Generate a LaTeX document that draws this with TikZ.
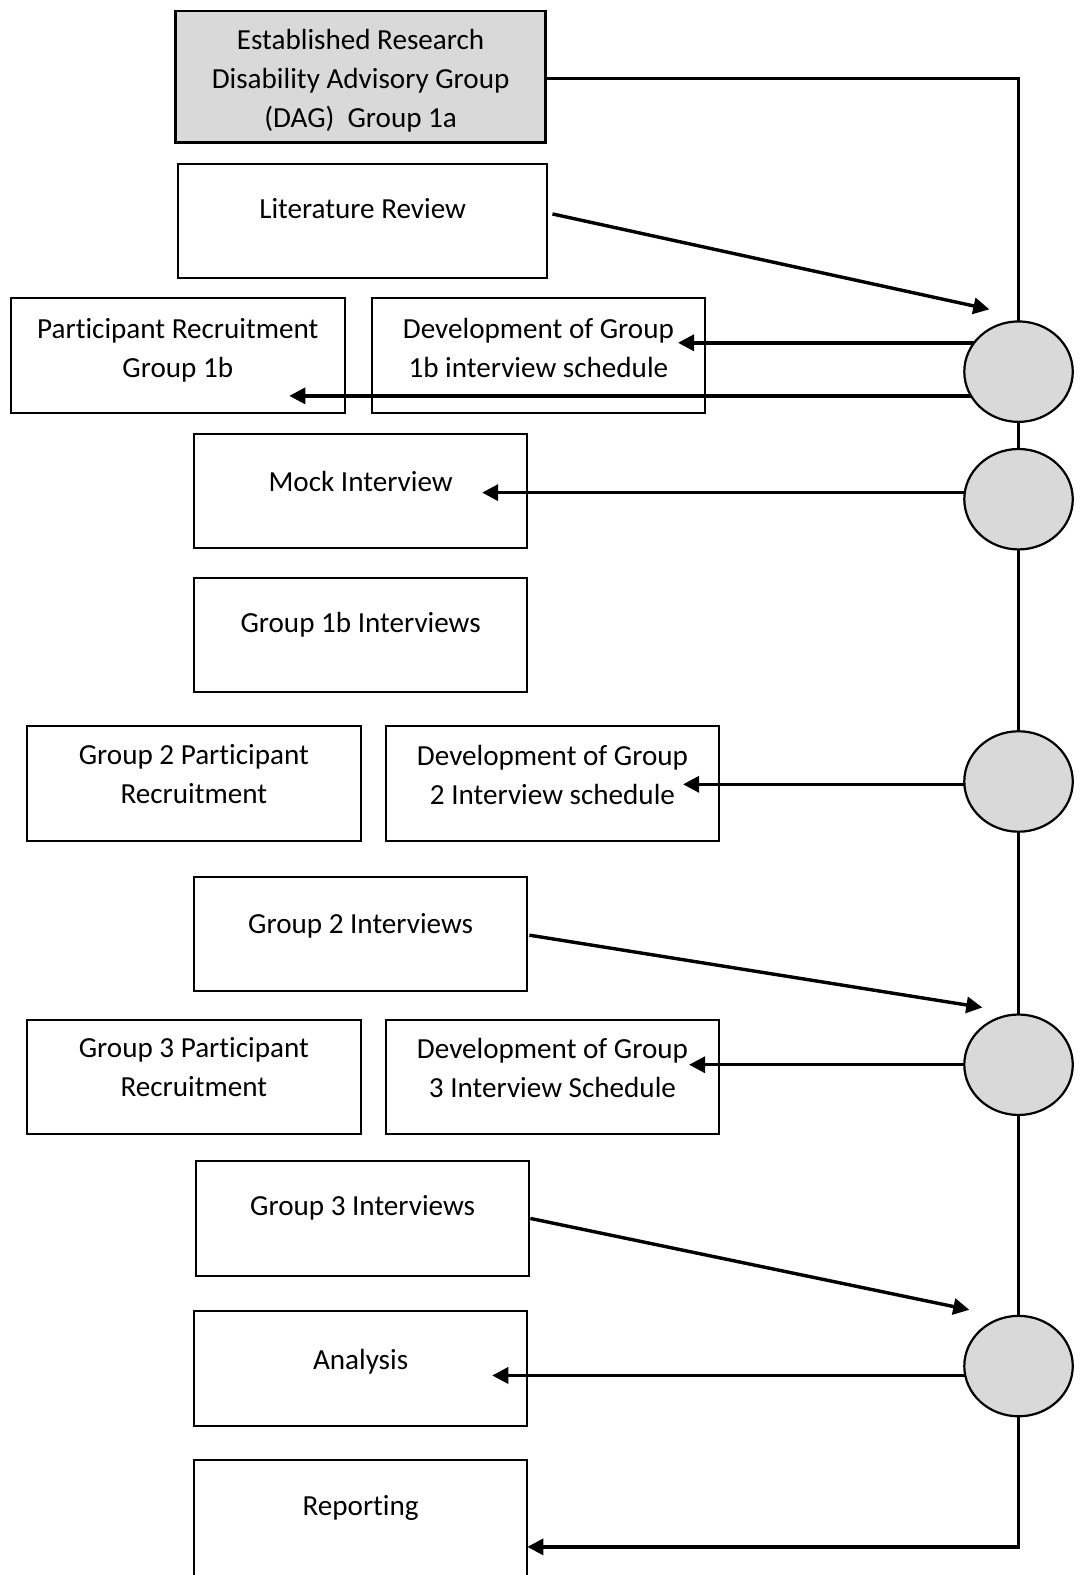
\documentclass[tikz,border=0pt]{standalone}
\usepackage{fontspec}
\setmainfont{Carlito}[Ligatures=NoCommon]
\usetikzlibrary{arrows.meta,shapes.geometric,backgrounds}
\definecolor{hubgray}{HTML}{D9D9D9}
\begin{document}
\begin{tikzpicture}[x=0.5pt,y=-0.5pt,
  sz/.style 2 args={minimum width=#1*0.5pt, minimum height=#2*0.5pt},
  box/.style={draw=black, line width=1pt, fill=white, inner sep=0pt, outer sep=0pt},
  dagbox/.style={box, fill=hubgray, line width=1.4pt},
  lbl/.style={anchor=base, align=center, font=\fontsize{14.5}{19.5}\selectfont, inner sep=0pt, outer sep=0pt},
  hub/.style={ellipse, draw=black, fill=hubgray, line width=1.1pt, minimum width=54pt, minimum height=50pt, inner sep=0pt, outer sep=0pt},
  conn/.style={line width=1.7pt},
  arr/.style={conn, -{Triangle[length=8pt,width=8pt]}}
]
\useasboundingbox (0,0) rectangle (1080,1568);

% boxes
\node[dagbox, sz={368}{131}] (dag) at (359,76.5) {};
\node[box, sz={368}{114}] (lit) at (361,220) {};
\node[box, sz={332}{114}] (part1) at (177,354) {};
\node[box, sz={332}{114}] (dev1) at (536,354) {};
\node[box, sz={332}{114}] (mock) at (359,489) {};
\node[box, sz={332}{114}] (int1) at (359,632) {};
\node[box, sz={332}{114}] (part2) at (193,780) {};
\node[box, sz={332}{114}] (dev2) at (550,780) {};
\node[box, sz={332}{114}] (int2) at (359,930) {};
\node[box, sz={332}{114}] (part3) at (193,1072) {};
\node[box, sz={332}{114}] (dev3) at (550,1072) {};
\node[box, sz={332}{114}] (int3) at (361,1213) {};
\node[box, sz={332}{115}] (ana) at (359,1362.5) {};
\node[box, sz={332}{140}] (rep) at (359,1523) {};

% texts (base = baseline of the last line)
\node[lbl] (tdag) at (359,127) {Established Research\\Disability Advisory Group\\(DAG)\ \ Group 1a};
\node[lbl] (tlit) at (361,218) {Literature Review};
\node[lbl] (tpart1) at (177,376) {Participant Recruitment\\Group 1b};
\node[lbl] (tdev1) at (536,376) {Development of Group\\1b interview schedule};
\node[lbl] (tmock) at (359,489) {Mock Interview};
\node[lbl] (tint1) at (359,630) {Group 1b Interviews};
\node[lbl] (tpart2) at (193,800) {Group 2 Participant\\Recruitment};
\node[lbl] (tdev2) at (550,801) {Development of Group\\2 Interview schedule};
\node[lbl] (tint2) at (359,929) {Group 2 Interviews};
\node[lbl] (tpart3) at (193,1092) {Group 3 Participant\\Recruitment};
\node[lbl] (tdev3) at (550,1093) {Development of Group\\3 Interview Schedule};
\node[lbl] (tint3) at (361,1210) {Group 3 Interviews};
\node[lbl] (tana) at (359,1363) {Analysis};
\node[lbl] (trep) at (359,1509) {Reporting};

% hubs
\node[hub] (c1) at (1014,370) {};
\node[hub] (c2) at (1014,497) {};
\node[hub] (c3) at (1014,778) {};
\node[hub] (c4) at (1014,1060) {};
\node[hub] (c5) at (1014,1360) {};

% arrow tips
\coordinate (tip1) at (985,308);
\coordinate (tip2) at (675,0);
\coordinate (tip3) at (288,0);
\coordinate (tip4) at (480,0);
\coordinate (tip5) at (680,0);
\coordinate (tip6) at (978,1003);
\coordinate (tip7) at (686,0);
\coordinate (tip8) at (965,1304);
\coordinate (tip9) at (490,0);
\coordinate (corner) at (1014,1540);

% spine
\begin{scope}[on background layer]
  \draw[arr] ([yshift=-0.75pt]dag.east) -| (corner) -- (rep.east |- corner);
\end{scope}

% arrows
\draw[arr] ([shift={(5,-7)}]lit.east) -- (tip1);
\draw[arr] (c1.147) -- (tip2 |- c1.147);
\draw[arr] (c1.207) -- (tip3 |- c1.207);
\draw[arr] (c2.173) -- (tip4 |- c2.173);
\draw[arr] (c3.183) -- (tip5 |- c3.183);
\draw[arr] ([shift={(2,1)}]int2.east) -- (tip6);
\draw[arr] (c4.west) -- (tip7 |- c4.west);
\draw[arr] ([shift={(1,0)}]int3.east) -- (tip8);
\draw[arr] (c5.190) -- (tip9 |- c5.190);
\end{tikzpicture}
\end{document}
